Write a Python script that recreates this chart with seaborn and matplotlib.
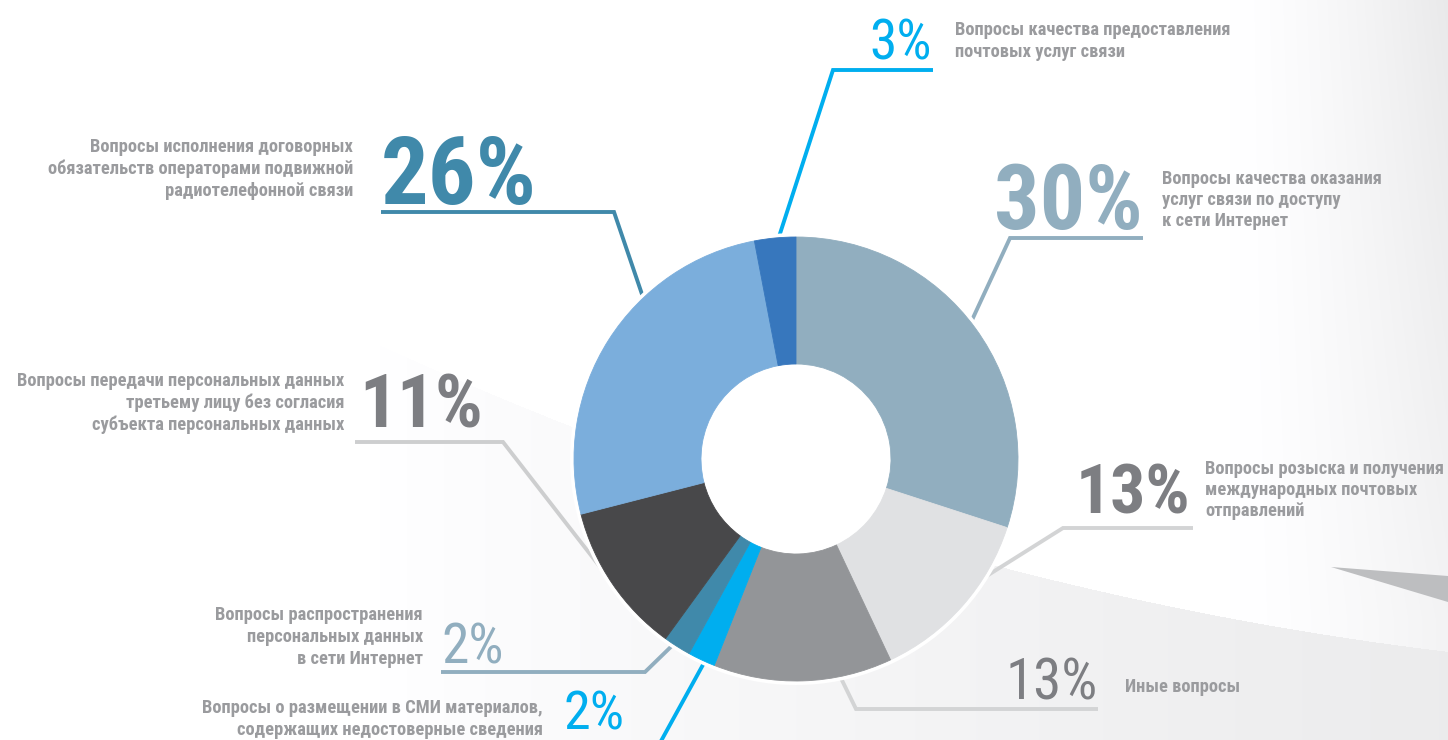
import numpy as np
import matplotlib
matplotlib.use("Agg")
import matplotlib.pyplot as plt
import seaborn as sns
from matplotlib import font_manager as fm
from matplotlib.patches import Circle, Polygon

# ---------------- data ----------------
categories = [
    "Вопросы качества оказания\nуслуг связи по доступу\nк сети Интернет",
    "Вопросы розыска и получения\nмеждународных почтовых\nотправлений",
    "Иные вопросы",
    "Вопросы о размещении в СМИ материалов,\nсодержащих недостоверные сведения",
    "Вопросы распространения\nперсональных данных\nв сети Интернет",
    "Вопросы передачи персональных данных\nтретьему лицу без согласия\nсубъекта персональных данных",
    "Вопросы исполнения договорных\nобязательств операторами подвижной\nрадиотелефонной связи",
    "Вопросы качества предоставления\nпочтовых услуг связи",
]
shares = [30, 13, 13, 2, 2, 11, 26, 3]
pct_labels = [f"{v}%" for v in shares]

# ---------------- styles / layout (pixel space) ----------------
slice_colors = ["#91AEBF", "#E0E1E3", "#939598", "#00AEEF",
                "#4089AA", "#48484A", "#7BAEDC", "#3777BD"]
num_colors = ["#91AEBF", "#7D7E82", "#7D7E82", "#00AEEF",
              "#91AEBF", "#7D7E82", "#4089AA", "#00AEEF"]
num_weights = ["bold", "bold", "normal", "normal", "normal", "bold", "bold", "normal"]
line_colors = ["#91AEBF", "#D3D4D5", "#D3D4D5", "#00AEEF",
               "#91AEBF", "#CDCECF", "#4089AA", "#00AEEF"]
num_pos = [(1143, 229, "right", 65), (1190, 513, "right", 50), (1098, 699, "right", 41),
           (563, 730, "left", 39), (441, 663, "left", 40), (359, 427, "left", 54),
           (381, 204, "left", 68), (932, 60, "right", 40)]
label_pos = [(1162, 200, "left"), (1205, 490, "left"), (1125, 687, "left"),
             (543, 719, "right"), (423, 637, "right"), (344, 403, "right"),
             (353, 169, "right"), (955, 41, "left")]
leader_paths = [
    [(966, 333), (1010, 238), (1143, 238)],
    [(985, 577), (1063, 528), (1193, 528)],
    [(836, 668), (856, 709), (1098, 709)],
    [(710, 652), (655, 752)],
    [(680, 638), (645, 672), (441, 672)],
    [(604, 572), (503, 442), (355, 442)],
    [(646, 306), (614, 212), (381, 212)],
    [(776, 246), (833, 70), (933, 70)],
]
W, H = 1448, 740
CX, CY, R_OUT, R_IN = 796, 459, 222, 95

sns.set_theme(style="white")
palette = sns.color_palette(slice_colors)

# ---------------- font choice: narrowest available ----------------
names = {f.name for f in fm.fontManager.ttflist}
FAM, STRETCH = "DejaVu Sans", "condensed"
for cand in ["Liberation Sans Narrow", "Roboto Condensed", "Open Sans Condensed",
             "Noto Sans Condensed", "DejaVu Sans Condensed"]:
    if cand in names:
        FAM, STRETCH = cand, "normal"
        break
else:
    conds = [f for f in fm.fontManager.ttflist
             if f.name in ("Noto Sans", "Open Sans", "Roboto", "DejaVu Sans")
             and str(f.stretch) in ("condensed", "extra-condensed", "semi-condensed")]
    if conds:
        FAM, STRETCH = conds[0].name, str(conds[0].stretch)
plt.rcParams["font.family"] = [FAM, "DejaVu Sans"]

fig = plt.figure(figsize=(W / 100, H / 100), dpi=100)
ax = fig.add_axes([0, 0, 1, 1])

# ---------------- background ----------------
xx, yy = np.meshgrid(np.arange(W) + 0.5, np.arange(H) + 0.5)
curve = 150.3 + 0.573 * xx - 0.0001565 * xx ** 2
level = np.ones((H, W))
t_right = np.clip((xx - 1230) / 218, 0, 1) ** 1.4
level -= 0.085 * t_right * (1 - 0.45 * np.clip(yy / 620, 0, 1))
below = yy > curve
t = np.clip((xx - 380) / 1068, 0, 1)
grey_below = 1.0 - 0.075 * t ** 0.8
level = np.where(below, np.minimum(level, grey_below), level)
img = np.dstack([level, level, level + 0.004])
img = np.clip(img, 0, 1)
ax.imshow(img, extent=(0, W, H, 0), zorder=0, interpolation="bilinear", aspect="auto")
ax.add_patch(Polygon([(1331, 567), (W, 576), (W, 602)], closed=True,
                     facecolor="#BDBEC0", edgecolor="none", zorder=1))

# ---------------- leader lines ----------------
for path, c in zip(leader_paths, line_colors):
    px, py = zip(*path)
    ax.plot(px, py, color=c, lw=2.8, solid_capstyle="butt",
            solid_joinstyle="miter", zorder=2)

# white halo + donut
ax.add_patch(Circle((CX, CY), R_OUT + 4, facecolor="white", edgecolor="none", zorder=3))
wedges, _ = ax.pie(shares, colors=palette, startangle=-90, counterclock=True,
                   center=(CX, CY), radius=R_OUT,
                   wedgeprops=dict(width=R_OUT - R_IN, linewidth=0.6))
for w, c in zip(wedges, palette):
    w.set_edgecolor(c)
    w.set_zorder(4)

# ---------------- texts ----------------
for txt, (x, y, ha, size), c, fw in zip(pct_labels, num_pos, num_colors, num_weights):
    ax.text(x, y, txt, ha=ha, va="baseline", fontsize=size, color=c,
            fontfamily=FAM, fontstretch=STRETCH, fontweight=fw, zorder=5)
for txt, (x, y, ha) in zip(categories, label_pos):
    ax.text(x, y, txt, ha=ha, va="center", multialignment=ha, fontsize=13.3,
            color="#9A9B9E", fontfamily=FAM, fontstretch=STRETCH,
            fontweight="bold", linespacing=1.25, zorder=5)

ax.set_xlim(0, W)
ax.set_ylim(H, 0)
ax.set_axis_off()
fig.savefig("out.png", dpi=100)
